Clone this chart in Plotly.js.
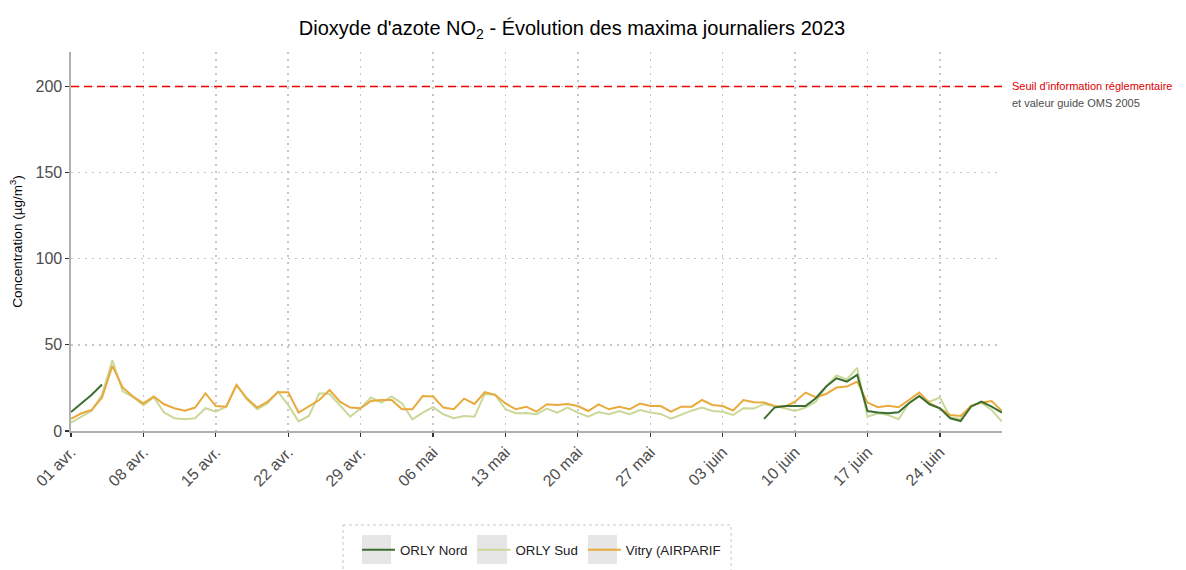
<!DOCTYPE html>
<html>
<head>
<meta charset="utf-8">
<script src="https://cdn.plot.ly/plotly-3.0.1.min.js"></script>
<style>html,body{margin:0;padding:0;background:#fff;}#chart{width:1186px;height:570px;}</style>
</head>
<body>
<div id="chart"></div>
<script>
// ---- data (daily maxima, 1 Apr 2023 -> 30 Jun 2023) ----
var startDate = '2023-04-01';
var nDays = 91;

var orlyNord = [11, 16, 21, 27,
  null, null, null, null, null, null, null, null, null, null,
  null, null, null, null, null, null, null, null, null, null,
  null, null, null, null, null, null, null, null, null, null,
  null, null, null, null, null, null, null, null, null, null,
  null, null, null, null, null, null, null, null, null, null,
  null, null, null, null, null, null, null, null, null, null,
  null, null, null,
  7, 13.6, 14.5, 14.5, 14.5, 19, 25.8, 30.6, 28.7, 32.6,
  11.6, 10.7, 10.3, 10.9, 16.1, 20.3, 15.5, 13.2, 7.4, 5.8,
  14.1, 17, 14.1, 10.7];

var orlySud = [4.8, 8.3, 11.8, 21, 41, 23, 19.6, 15, 19.6, 10.7,
  7.4, 6.8, 7.4, 13.2, 11.2, 14.1, 26.7, 18.4, 12.6, 16,
  22.9, 15, 5.6, 8.7, 21.9, 21.5, 15.1, 8.3, 13.2, 19.4,
  16.5, 20, 16, 6.8, 10.7, 13.8, 9.7, 7.4, 8.7, 8.3,
  21.5, 21, 12.6, 10.3, 10.5, 9.7, 13, 10.7, 13.6, 10.7,
  8.3, 11, 9.7, 11.6, 9.7, 12.2, 10.7, 9.9, 7.2, 9.7,
  11.8, 13.6, 11.6, 11.2, 9.3, 13.2, 13, 15.7, 14.5, 13.2,
  11.6, 13.6, 17, 25.8, 32.2, 30, 36.6, 8.3, 10.3, 9.3,
  6.8, 16.1, 20, 17, 19.4, 7.8, 7, 14.7, 16.5, 12.2, 5.4];

var vitry = [7, 10.3, 12.2, 19.4, 37.8, 25.2, 20, 16, 20, 15.5,
  13.2, 11.8, 13.6, 21.9, 14.5, 14.1, 26.7, 19, 13.6, 17,
  22.5, 22.5, 10.7, 14.1, 18, 23.8, 17, 13.6, 13.2, 17.4,
  18, 18, 12.6, 12.6, 20.3, 20, 13.6, 12.6, 18.8, 15.7,
  22.5, 21, 16, 12.6, 14.1, 11.2, 15.5, 15.1, 15.7, 14.5,
  11.6, 15.5, 12.6, 14.1, 12.6, 15.9, 14.5, 14.5, 11.2, 14.1,
  14.1, 18, 15.1, 14.5, 11.8, 18, 16.7, 16.5, 14.5, 14.1,
  17, 22.3, 19.6, 21.5, 25.2, 25.8, 28.7, 16.5, 13.8, 14.7,
  13.8, 18, 22.3, 16.1, 13.2, 9.3, 8.7, 14.5, 16.5, 17.4, 11.6];

var seriesNames = ['ORLY Nord', 'ORLY Sud', 'Vitry (AIRPARIF'];
var tickDates = ['2023-04-01','2023-04-08','2023-04-15','2023-04-22','2023-04-29','2023-05-06',
  '2023-05-13','2023-05-20','2023-05-27','2023-06-03','2023-06-10','2023-06-17','2023-06-24'];
var tickLabels = ['01 avr.','08 avr.','15 avr.','22 avr.','29 avr.','06 mai','13 mai','20 mai',
  '27 mai','03 juin','10 juin','17 juin','24 juin'];
var seuil = 200;
var yTicks = [0, 50, 100, 150, 200];

// ---- dates ----
var dates = [];
var t0 = Date.UTC(2023, 3, 1);
for (var i = 0; i < nDays; i++) {
  var d = new Date(t0 + i * 86400000);
  dates.push(d.toISOString().slice(0, 10));
}

var colNord = '#3b6e31', colSud = '#cad89a', colVitry = '#e8aa3c';

var traces = [
  {x: dates, y: orlySud, name: seriesNames[1], type: 'scatter', mode: 'lines',
   line: {color: colSud, width: 2}, legendrank: 2, connectgaps: false},
  {x: dates, y: vitry, name: seriesNames[2], type: 'scatter', mode: 'lines',
   line: {color: colVitry, width: 2}, legendrank: 3, connectgaps: false},
  {x: dates, y: orlyNord, name: seriesNames[0], type: 'scatter', mode: 'lines',
   line: {color: colNord, width: 2}, legendrank: 1, connectgaps: false}
];

// pixel -> paper helpers (plot area: x 71..1002, y 52..431)
var L = 71, R = 1002, T = 52, B = 431;
function px(x) { return (x - L) / (R - L); }
function py(y) { return (B - y) / (B - T); }

var shapes = [
  {type: 'line', xref: 'paper', x0: 0, x1: 1, yref: 'y', y0: seuil, y1: seuil,
   line: {color: '#ee0000', width: 1.6, dash: '8px,5px'}},
  {type: 'rect', xref: 'paper', yref: 'paper', x0: px(343), x1: px(731), y0: py(525), y1: py(600),
   line: {color: '#c8c8c8', width: 1, dash: 'dot'}, fillcolor: 'rgba(0,0,0,0)'},
  {type: 'rect', xref: 'paper', yref: 'paper', x0: px(362), x1: px(391), y0: py(535), y1: py(564),
   line: {width: 0}, fillcolor: '#e6e6e6', layer: 'below'},
  {type: 'rect', xref: 'paper', yref: 'paper', x0: px(477), x1: px(507), y0: py(535), y1: py(564),
   line: {width: 0}, fillcolor: '#e6e6e6', layer: 'below'},
  {type: 'rect', xref: 'paper', yref: 'paper', x0: px(588), x1: px(617), y0: py(535), y1: py(564),
   line: {width: 0}, fillcolor: '#e6e6e6', layer: 'below'}
];

var layout = {
  width: 1186, height: 570,
  paper_bgcolor: '#ffffff', plot_bgcolor: '#ffffff',
  font: {family: 'Liberation Sans, Arial, sans-serif', color: '#4d4d4d'},
  margin: {l: L, r: 1186 - R, t: T, b: 570 - B, pad: 0, autoexpand: false},
  title: {text: "Dioxyde d'azote NO<sub>2</sub> - Évolution des maxima journaliers 2023",
    font: {size: 20, color: '#000000', family: 'Liberation Sans, Arial, sans-serif'},
    x: 572 / 1186, xanchor: 'center', xref: 'container', y: 1 - 28 / 570, yanchor: 'middle', yref: 'container'},
  xaxis: {
    type: 'date', range: [dates[0], dates[nDays - 1]],
    tickmode: 'array', tickvals: tickDates, ticktext: tickLabels, tickangle: -45,
    tickfont: {size: 16, color: '#4d4d4d'},
    ticks: 'outside', ticklen: 4, tickcolor: '#333333', tickwidth: 1.2,
    showline: true, linecolor: '#b0b0b0', linewidth: 1.6,
    showgrid: true, gridcolor: '#c6c6c6', griddash: '2px,5px', gridwidth: 1.5,
    zeroline: false, fixedrange: true, automargin: false
  },
  yaxis: {
    range: [0, 220], tickmode: 'array', tickvals: yTicks,
    tickfont: {size: 16, color: '#4d4d4d'},
    ticks: 'outside', ticklen: 4, tickcolor: '#333333', tickwidth: 1.2,
    showline: true, linecolor: '#b0b0b0', linewidth: 1.6,
    showgrid: true, gridcolor: '#c6c6c6', griddash: '2px,5px', gridwidth: 1.5,
    zeroline: false, fixedrange: true, automargin: false,
    title: {text: 'Concentration (µg/m<sup>3</sup>)', font: {size: 13.5, color: '#000000'}, standoff: 10}
  },
  showlegend: true,
  legend: {orientation: 'h', x: px(357), xanchor: 'left', y: py(550), yanchor: 'middle',
    font: {size: 13.3, color: '#222222'}, bgcolor: 'rgba(0,0,0,0)', borderwidth: 0,
    traceorder: 'normal', itemwidth: 33},
  shapes: shapes,
  annotations: [
    {xref: 'paper', yref: 'y', x: px(1010), y: seuil, xanchor: 'left', yanchor: 'middle',
     text: "Seuil d'information réglementaire", showarrow: false,
     font: {size: 11, color: '#dd0000'}},
    {xref: 'paper', yref: 'paper', x: px(1010), y: py(103), xanchor: 'left', yanchor: 'middle',
     text: 'et valeur guide OMS 2005', showarrow: false,
     font: {size: 11, color: '#4d4d4d'}}
  ]
};

Plotly.newPlot('chart', traces, layout, {displayModeBar: false, staticPlot: true});
</script>
</body>
</html>
